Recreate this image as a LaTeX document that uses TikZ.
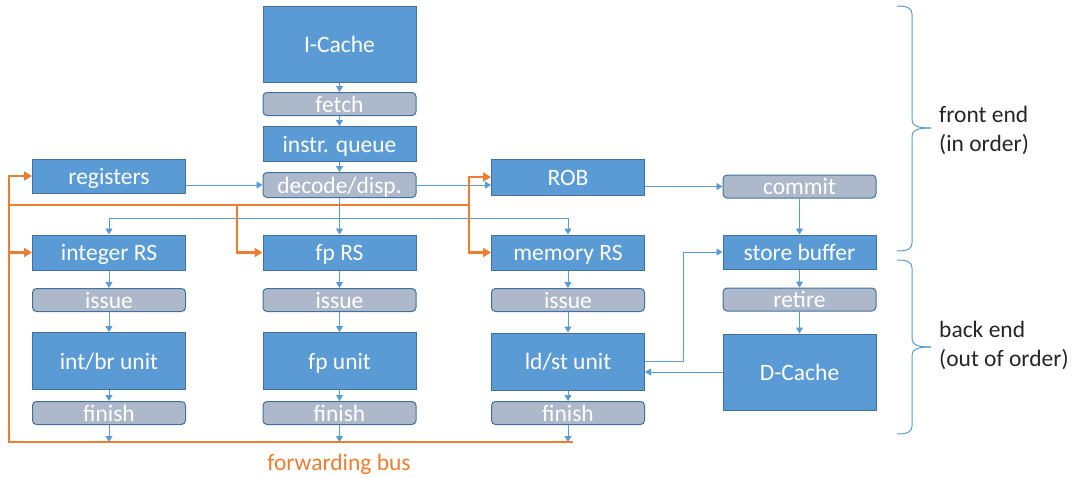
\documentclass[tikz,border=0pt]{standalone}
\usepackage{fontspec}
\setmainfont{Carlito}
\usetikzlibrary{arrows.meta}
\definecolor{boxblue}{HTML}{5B9BD5}
\definecolor{boxedge}{HTML}{41719C}
\definecolor{greyfill}{HTML}{ADB9CA}
\definecolor{orng}{HTML}{ED7D31}
\definecolor{lbl}{HTML}{262626}
\begin{document}
\begin{tikzpicture}[x=1pt,y=-1pt,
  base/.style={draw=boxedge, line width=1pt, text=white, inner sep=0pt,
    minimum width=153pt, text height=16pt, text depth=0pt,
    font=\fontsize{23.5}{28}\selectfont},
  bbox/.style={base, fill=boxblue},
  gbox/.style={base, fill=greyfill, rounded corners=4pt},
  conn/.style={draw=boxblue, line width=0.9pt, -{Triangle[width=7pt,length=6pt]}},
  fwd/.style={draw=orng, line width=2.4pt, -{Triangle[width=9pt,length=8pt]}},
  fwdline/.style={draw=orng, line width=2.4pt},
  brc/.style={draw=boxblue, line width=1pt},
  side/.style={anchor=west, align=left, text=lbl, inner sep=0pt,
    font=\fontsize{23.5}{29}\selectfont},
]
\useasboundingbox (0,0) rectangle (1078,477);

% front column
\node[bbox, minimum height=76pt] (icache) at (339.5,44) {I-Cache};
\node[gbox, minimum height=23pt] (fetch) at (339.5,104) {fetch};
\node[bbox, minimum height=35pt] (iq) at (339.5,144) {instr. queue};
\node[gbox, minimum height=25pt] (decode) at (339.5,185) {decode/disp.};

\node[bbox, minimum height=34pt] (regs) at (109,176) {registers};
\node[bbox, minimum height=36pt] (rob) at (568,177) {ROB};
\node[gbox, minimum height=23pt] (commit) at (799.5,186.5) {commit};

% reservation stations
\node[bbox, minimum height=35pt] (intrs) at (109,252.5) {integer RS};
\node[bbox, minimum height=35pt] (fprs) at (339.5,252.5) {fp RS};
\node[bbox, minimum height=35pt] (memrs) at (568,252.5) {memory RS};
\node[bbox, minimum height=34pt] (sb) at (799.5,252) {store buffer};

% issue
\node[gbox, minimum height=23pt] (iss1) at (109,300) {issue};
\node[gbox, minimum height=23pt] (iss2) at (339.5,300) {issue};
\node[gbox, minimum height=23pt] (iss3) at (568,300) {issue};
\node[gbox, minimum height=23pt] (retire) at (799.5,299.5) {retire};

% units
\node[bbox, minimum height=57pt] (intu) at (109,361) {int/br unit};
\node[bbox, minimum height=57pt] (fpu) at (339.5,361) {fp unit};
\node[bbox, minimum height=57pt] (ldst) at (568,361.5) {ld/st unit};
\node[bbox, minimum height=76pt] (dcache) at (799.5,372) {D-Cache};

% finish
\node[gbox, minimum height=23pt] (fin1) at (109,413) {finish};
\node[gbox, minimum height=23pt] (fin2) at (339.5,413) {finish};
\node[gbox, minimum height=23pt] (fin3) at (568,413) {finish};

% bus label
\node[text=orng, inner sep=0pt, text height=16pt, text depth=0pt,
  font=\fontsize{23.5}{28}\selectfont] (buslbl) at (339,462) {forwarding bus};

% coordinates
\coordinate (j) at (339.5,218);
\coordinate (oL) at (9,205);
\coordinate (oM) at (237,205);
\coordinate (oR) at (469,205);
\coordinate (busL) at (9,442);
\coordinate (busR) at (573,442);

% blue connectors
\draw[conn] (icache.south) -- (fetch.north);
\draw[conn] (fetch.south) -- (iq.north);
\draw[conn] (iq.south) -- (decode.north);
\draw[conn] (regs.east |- decode.west) -- (decode.west);
\draw[conn] (decode.east) -- (decode.east -| rob.west);
\draw[conn] (decode.south) -- (fprs.north);
\draw[conn] (j) -| (intrs.north);
\draw[conn] (j) -| (memrs.north);
\draw[conn] (rob.east |- commit.west) -- (commit.west);
\draw[conn] (commit.south) -- (sb.north);
\draw[conn] (sb.south) -- (retire.north);
\draw[conn] (retire.south) -- (dcache.north);
\draw[conn] (ldst.east) -- ++(38,0) |- (sb.west);
\draw[conn] (dcache.west) -- (dcache.west -| ldst.east);

\foreach \a/\b/\c/\d in {intrs/iss1/intu/fin1, fprs/iss2/fpu/fin2, memrs/iss3/ldst/fin3}{
  \draw[conn] (\a.south) -- (\b.north);
  \draw[conn] (\b.south) -- (\c.north);
  \draw[conn] (\c.south) -- (\d.north);
  \draw[conn] (\d.south) -- (\d.south |- busL);
}

% orange forwarding
\draw[fwdline] (oL) -- (oR);
\draw[fwdline] (oL) -- (busL) -- (busR);
\draw[fwd] (oL) |- (regs.west);
\draw[fwd] (oL) |- (intrs.west);
\draw[fwd] (oM) |- (fprs.west);
\draw[fwd] (oR) |- (rob.west);
\draw[fwd] (oR) |- (memrs.west);

% braces
\draw[brc] (897,6) .. controls (907,6) and (912,8) .. (912,14)
  -- (912,120) .. controls (912,126) and (918,128) .. (931,128);
\draw[brc] (931,128) .. controls (918,128) and (912,130) .. (912,136)
  -- (912,243) .. controls (912,249) and (907,251) .. (897,251);
\draw[brc] (897,260) .. controls (907,260) and (912,262) .. (912,268)
  -- (912,339) .. controls (912,345) and (918,347) .. (931,347);
\draw[brc] (931,347) .. controls (918,347) and (912,349) .. (912,355)
  -- (912,426) .. controls (912,432) and (907,434) .. (897,434);

\node[side] (fe) at (939,130) {front end\\(in order)};
\node[side] (be) at (939,345) {back end\\(out of order)};
\end{tikzpicture}
\end{document}
